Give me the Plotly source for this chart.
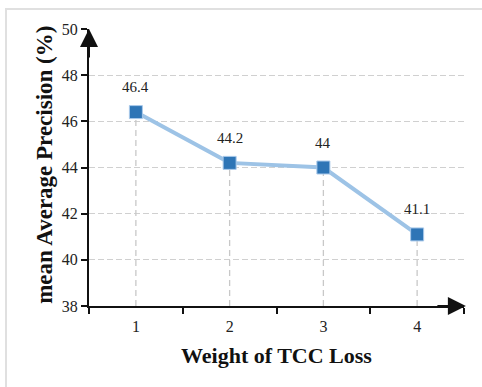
import plotly.graph_objects as go

categories = ["1", "2", "3", "4"]
map_values = [46.4, 44.2, 44.0, 41.1]
value_labels = ["46.4", "44.2", "44", "41.1"]
y_ticks = [38, 40, 42, 44, 46, 48, 50]

FONT = "Liberation Serif"
Y_MIN, Y_MAX = 38, 50

fig = go.Figure()

# dashed drop lines from each point to the x axis
drop_x, drop_y = [], []
for c, v in zip(categories, map_values):
    drop_x += [c, c, None]
    drop_y += [Y_MIN, v, None]
fig.add_trace(go.Scatter(
    x=drop_x, y=drop_y, mode="lines",
    line=dict(color="#c8c8c8", width=1.3, dash="6px,4px"),
    hoverinfo="skip", showlegend=False,
))

fig.add_trace(go.Scatter(
    x=categories, y=map_values, mode="lines+markers",
    line=dict(color="#9dc3e6", width=4),
    marker=dict(symbol="square", size=13, color="#2e75b6",
                line=dict(color="#a9c9ea", width=1)),
    showlegend=False,
))

annotations = []
for i, (v, t) in enumerate(zip(map_values, value_labels)):
    annotations.append(dict(
        x=i, y=v, text=t, showarrow=False, yshift=25,
        font=dict(family=FONT, size=15, color="#222"),
    ))

# axis titles
annotations.append(dict(
    xref="paper", yref="paper", x=0.5, y=-0.177,
    text="<b>Weight of TCC Loss</b>", showarrow=False,
    xanchor="center", yanchor="middle",
    font=dict(family=FONT, size=22, color="#111"),
))
annotations.append(dict(
    xref="paper", yref="paper", x=-0.117, y=0.51,
    text="<b>mean Average Precision (%)</b>", showarrow=False, textangle=-90,
    xanchor="center", yanchor="middle",
    font=dict(family=FONT, size=23, color="#111"),
))

# axis arrows
annotations.append(dict(
    xref="paper", yref="paper", x=0, y=1, ax=0, ay=30,
    text="", showarrow=True, arrowhead=2, arrowsize=1.8, arrowwidth=2,
    arrowcolor="#111", standoff=0,
))
annotations.append(dict(
    xref="paper", yref="paper", x=1.005, y=0, ax=-30, ay=0,
    text="", showarrow=True, arrowhead=2, arrowsize=1.8, arrowwidth=2,
    arrowcolor="#111", standoff=0,
))

W, H = 482, 387
ml, mr, mt, mb = 89, 18, 29, 81
pw, ph = W - ml - mr, H - mt - mb

def px_x(p):
    return (p - ml) / pw

def px_y(p):
    return (H - mb - p) / ph

shapes = [
    dict(type="line", xref="paper", yref="paper",
         x0=px_x(6), x1=px_x(6), y0=px_y(8), y1=px_y(H + 5),
         line=dict(color="#e0e0e0", width=2)),
    dict(type="line", xref="paper", yref="paper",
         x0=px_x(5), x1=px_x(W + 5), y0=px_y(9), y1=px_y(9),
         line=dict(color="#e0e0e0", width=2)),
]

fig.update_layout(
    width=W, height=H,
    margin=dict(l=ml, r=mr, t=mt, b=mb, pad=0),
    paper_bgcolor="white", plot_bgcolor="white",
    annotations=annotations, shapes=shapes,
    font=dict(family=FONT, size=16, color="#222"),
    xaxis=dict(
        type="category", range=[-0.5, 3.5], tickson="boundaries",
        showgrid=False, zeroline=False,
        showline=True, linecolor="#111", linewidth=2,
        ticks="outside", ticklen=6, tickwidth=2, tickcolor="#111",
        ticklabelstandoff=5,
        tickfont=dict(family=FONT, size=16, color="#222"),
        fixedrange=True,
    ),
    yaxis=dict(
        range=[Y_MIN, Y_MAX], tickvals=y_ticks,
        showgrid=True, gridcolor="#d0d0d0", griddash="6px,3px", gridwidth=1,
        zeroline=False,
        showline=True, linecolor="#111", linewidth=2,
        ticks="outside", ticklen=6, tickwidth=1.5, tickcolor="#111",
        tickfont=dict(family=FONT, size=16, color="#222"),
        fixedrange=True,
    ),
)

fig.write_html("out.html")
